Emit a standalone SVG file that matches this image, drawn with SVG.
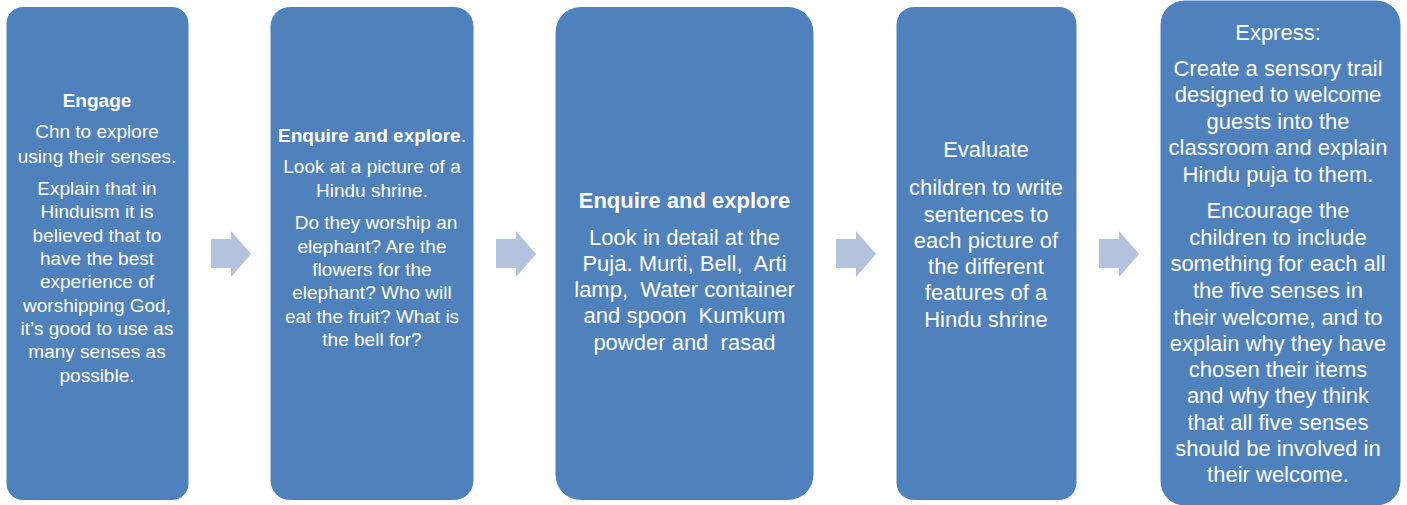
<svg xmlns="http://www.w3.org/2000/svg" width="1407" height="505" viewBox="0 0 1407 505">
<style>
.box{fill:#4F81BD;stroke:#ffffff;stroke-width:1}
.arr{fill:#B3C2DD}
.t{font-family:"Liberation Sans",Arial,sans-serif;fill:#ffffff;text-anchor:middle}
.s{font-size:19px}
.l{font-size:22px}
.b{font-weight:bold}
</style>
<rect width="1407" height="505" fill="#ffffff"/>
<g id="connectors">
<polygon class="arr" points="211,239 231,239 231,231 251,254 231,277 231,268 211,268"/>
<polygon class="arr" points="496,239 516,239 516,231 536,254 516,277 516,268 496,268"/>
<polygon class="arr" points="836,239 856,239 856,231 876,254 856,277 856,268 836,268"/>
<polygon class="arr" points="1099,239 1119,239 1119,231 1139,254 1119,277 1119,268 1099,268"/>
</g>
<g id="engage">
<rect class="box" x="6" y="6.5" width="183" height="494" rx="17"/>
<text class="t s b" x="97" y="106.5">Engage</text>
<text class="t s" x="97" y="137.5">Chn to explore</text>
<text class="t s" x="97" y="163">using their senses.</text>
<text class="t s" x="97" y="195">Explain that in</text>
<text class="t s" x="97" y="218">Hinduism it is</text>
<text class="t s" x="97" y="241.5">believed that to</text>
<text class="t s" x="97" y="265">have the best</text>
<text class="t s" x="97" y="288">experience of</text>
<text class="t s" x="97" y="311.5">worshipping God,</text>
<text class="t s" x="97" y="335">it’s good to use as</text>
<text class="t s" x="97" y="358">many senses as</text>
<text class="t s" x="97" y="381.5">possible.</text>
</g>
<g id="enquire1">
<rect class="box" x="270" y="6.5" width="204" height="494" rx="20"/>
<text class="t s" x="372" y="141.5"><tspan class="b">Enquire and explore</tspan>.</text>
<text class="t s" x="372" y="173">Look at a picture of a</text>
<text class="t s" x="372" y="196.5">Hindu shrine.</text>
<text class="t s" x="376" y="229">Do they worship an</text>
<text class="t s" x="372" y="252.5">elephant? Are the</text>
<text class="t s" x="372" y="276">flowers for the</text>
<text class="t s" x="372" y="299">elephant? Who will</text>
<text class="t s" x="372" y="322.5">eat the fruit? What is</text>
<text class="t s" x="372" y="346">the bell for?</text>
</g>
<g id="enquire2">
<rect class="box" x="555" y="6.5" width="259" height="494" rx="26"/>
<text class="t l b" x="684.5" y="208">Enquire and explore</text>
<text class="t l" x="684.5" y="245" xml:space="preserve">Look in detail at the</text>
<text class="t l" x="684.5" y="271" xml:space="preserve">Puja. Murti, Bell,  Arti</text>
<text class="t l" x="684.5" y="297" xml:space="preserve">lamp,  Water container</text>
<text class="t l" x="684.5" y="323" xml:space="preserve">and spoon  Kumkum</text>
<text class="t l" x="684.5" y="350" xml:space="preserve">powder and  rasad</text>
</g>
<g id="evaluate">
<rect class="box" x="896" y="6.5" width="181" height="494" rx="18"/>
<text class="t l" x="986" y="157">Evaluate</text>
<text class="t l" x="986" y="195">children to write</text>
<text class="t l" x="986" y="221.5">sentences to</text>
<text class="t l" x="986" y="247.5">each picture of</text>
<text class="t l" x="986" y="274">the different</text>
<text class="t l" x="986" y="300">features of a</text>
<text class="t l" x="986" y="326.5">Hindu shrine</text>
</g>
<g id="express">
<rect class="box" x="1160" y="0" width="241" height="506" rx="25"/>
<text class="t l" x="1278" y="40">Express:</text>
<text class="t l" x="1278" y="75.5">Create a sensory trail</text>
<text class="t l" x="1278" y="102">designed to welcome</text>
<text class="t l" x="1278" y="128.5">guests into the</text>
<text class="t l" x="1278" y="155">classroom and explain</text>
<text class="t l" x="1278" y="182">Hindu puja to them.</text>
<text class="t l" x="1278" y="218">Encourage the</text>
<text class="t l" x="1278" y="244.5">children to include</text>
<text class="t l" x="1278" y="271">something for each all</text>
<text class="t l" x="1278" y="298">the five senses in</text>
<text class="t l" x="1278" y="324.5">their welcome, and to</text>
<text class="t l" x="1278" y="350.5">explain why they have</text>
<text class="t l" x="1278" y="376.5">chosen their items</text>
<text class="t l" x="1278" y="403">and why they think</text>
<text class="t l" x="1278" y="429.5">that all five senses</text>
<text class="t l" x="1278" y="456">should be involved in</text>
<text class="t l" x="1278" y="482">their welcome.</text>
</g>
</svg>
